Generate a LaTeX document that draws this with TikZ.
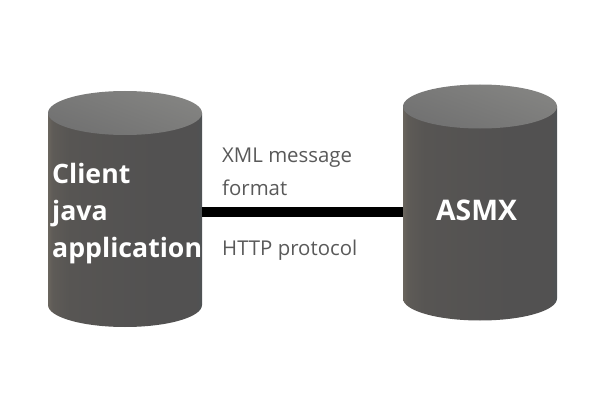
\documentclass[tikz,border=0pt]{standalone}
\usepackage{fontspec}
\setmainfont{Open Sans}
\usetikzlibrary{positioning, calc, shapes.geometric}

\definecolor{labelgray}{HTML}{595959}
\definecolor{cylA}{HTML}{6A655E}
\definecolor{cylB}{HTML}{5E5B57}
\definecolor{cylC}{HTML}{575553}
\definecolor{cylD}{HTML}{525151}
\definecolor{cylE}{HTML}{4E5255}
\definecolor{lidA}{HTML}{848482}
\definecolor{lidB}{HTML}{717171}
\pgfdeclarehorizontalshading{cylbody}{100bp}{
  color(0bp)=(cylA); color(25bp)=(cylA); color(26.5bp)=(cylB); color(32bp)=(cylC);
  color(60bp)=(cylD); color(73bp)=(cylD); color(75bp)=(cylE); color(100bp)=(cylE)}

% body of a barrel, hung on its named box
\newcommand{\barrelbody}[1]{
  \shade[shading=cylbody] ($(#1.north west)+(0,-22)$) -- ($(#1.south west)+(0,22)$)
    arc[start angle=180, end angle=360, x radius=77, y radius=22]
    -- ($(#1.north east)+(0,-22)$) -- cycle;
}

\begin{document}
\begin{tikzpicture}[
  x=1pt, y=1pt,
  barrel/.style = {rectangle, minimum width=154pt, minimum height=236pt, inner sep=0pt, outer sep=0pt},
  lid/.style    = {ellipse, anchor=north, minimum width=154pt, minimum height=44pt,
                   inner sep=0pt, outer sep=0pt, top color=lidA, bottom color=lidB,
                   shading angle=-20},
  bigtext/.style = {text=white, font=\fontsize{26.7}{37}\selectfont\bfseries, inner sep=0pt, align=left},
  note/.style   = {text=labelgray, font=\fontsize{20.4}{33}\selectfont, inner sep=0pt, align=left},
  link/.style   = {line width=10pt, black}
]
\useasboundingbox (0,0) rectangle (595,408);

% cylinders
\node[barrel] (client) at (125,199) {};
\barrelbody{client}
\node[lid] (clienttop) at (client.north) {};
\node[barrel] (asmx) at (480,205.5) {};
\barrelbody{asmx}
\node[lid] (asmxtop) at (asmx.north) {};

% labels
\node[bigtext, anchor=west] (clienttext) at (52,194) {Client\\java\\application};
\node[bigtext, font=\fontsize{28.4}{37}\selectfont\bfseries] (asmxtext) at (476.5,198) {ASMX};
\node[note, anchor=north west] (format) at (222,260) {XML message\\format};
\node[note, anchor=west] (protocol) at (222,158) {HTTP protocol};

% connection
\coordinate (linkmid) at (302,195.7);
\draw[link] (client.east |- linkmid) -- (asmx.west |- linkmid);

\end{tikzpicture}
\end{document}
